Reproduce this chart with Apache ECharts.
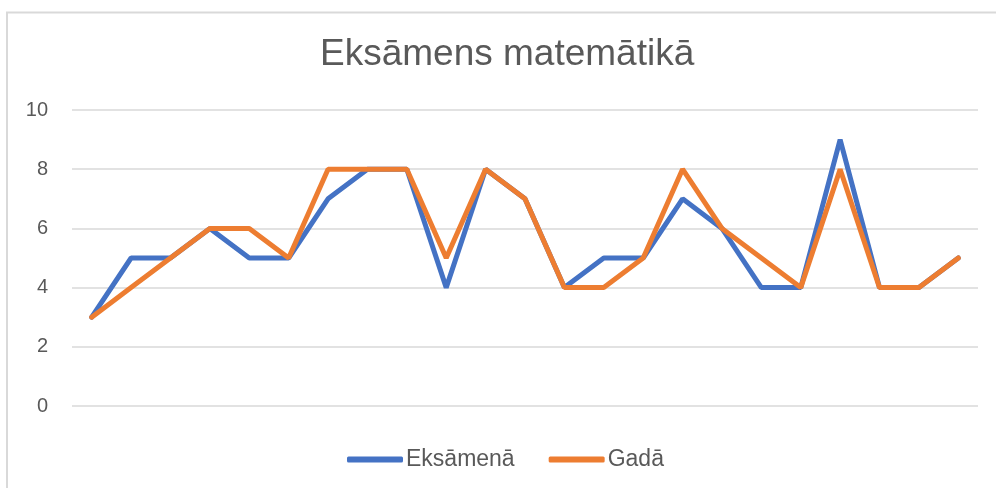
<!DOCTYPE html>
<html>
<head>
<meta charset="utf-8">
<script src="https://cdn.jsdelivr.net/npm/echarts@6/dist/echarts.min.js"></script>
<style>
  html, body { margin: 0; padding: 0; background: #fff; }
  #chart { width: 996px; height: 488px; }
</style>
</head>
<body>
<div id="chart"></div>
<script>
// 23 unlabeled points along the x axis
const categories = ['1','2','3','4','5','6','7','8','9','10','11','12','13','14','15','16','17','18','19','20','21','22','23'];
const eksamena = [3, 5, 5, 6, 5, 5, 7, 8, 8, 4, 8, 7, 4, 5, 5, 7, 6, 4, 4, 9, 4, 4, 5];
const gada     = [3, 4, 5, 6, 6, 5, 8, 8, 8, 5, 8, 7, 4, 4, 5, 8, 6, 5, 4, 8, 4, 4, 5];
const yTicks = { min: 0, max: 10, interval: 2 };

const font = '"Liberation Sans", Arial, sans-serif';
const textColor = '#595959';

const chart = echarts.init(document.getElementById('chart'));

const lineSeries = (name, data, color) => ({
  name,
  type: 'line',
  data,
  showSymbol: false,
  symbol: 'none',
  animation: false,
  lineStyle: { color, width: 5, cap: 'round' },
  itemStyle: { color }
});

chart.setOption({
  backgroundColor: '#fff',
  graphic: [{
    type: 'rect',
    shape: { x: 7, y: 12.5, width: 1010, height: 500 },
    style: { fill: 'none', stroke: '#D9D9D9', lineWidth: 2 },
    silent: true
  }],
  title: {
    text: 'Eksāmens matemātikā',
    left: 315,
    top: 31,
    textStyle: { fontFamily: font, fontSize: 37, fontWeight: 'normal', color: textColor }
  },
  legend: {
    bottom: 12,
    left: 342,
    icon: 'roundRect',
    itemWidth: 56,
    itemHeight: 6,
    itemGap: 34,
    textStyle: { fontFamily: font, fontSize: 23, color: textColor, padding: [0, 0, 0, -2] },
    data: ['Eksāmenā', 'Gadā']
  },
  grid: { left: 72, right: 18, top: 110, bottom: 82 },
  xAxis: {
    type: 'category',
    data: categories,
    boundaryGap: true,
    axisLine: { show: false },
    axisTick: { show: false },
    axisLabel: { show: false },
    splitLine: { show: false }
  },
  yAxis: {
    type: 'value',
    min: yTicks.min,
    max: yTicks.max,
    interval: yTicks.interval,
    axisLine: { show: false },
    axisTick: { show: false },
    axisLabel: { margin: 24, fontFamily: font, fontSize: 20, color: textColor },
    splitLine: { lineStyle: { color: '#D9D9D9', width: 1.5 } }
  },
  series: [
    lineSeries('Eksāmenā', eksamena, '#4472C4'),
    lineSeries('Gadā', gada, '#ED7D31')
  ]
});
</script>
</body>
</html>
